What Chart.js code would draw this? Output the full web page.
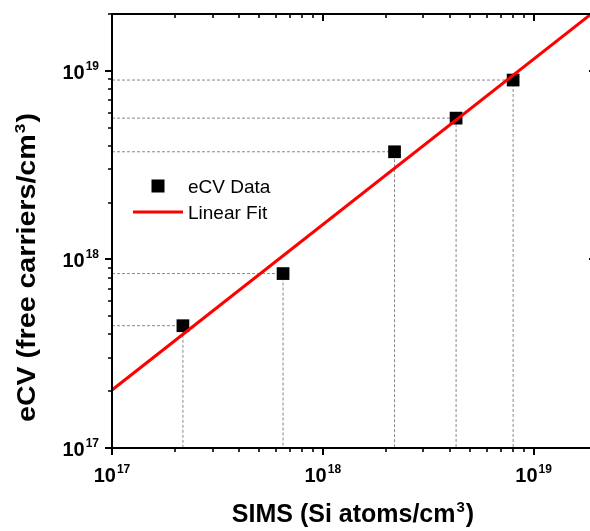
<!DOCTYPE html>
<html>
<head>
<meta charset="utf-8">
<script src="https://cdn.jsdelivr.net/npm/chart.js@4.4.1/dist/chart.umd.min.js"></script>
<style>
html, body { margin: 0; padding: 0; overflow: hidden; background: #fff; }
#wrap { width: 606px; height: 531px; }
</style>
</head>
<body>
<div id="wrap"><canvas id="chart" width="606" height="531"></canvas></div>
<script>
// SIMS vs eCV
const simsX = [2.17e17, 6.48e17, 2.19e18, 4.29e18, 8.0e18]
const ecvY = [4.45e17, 8.41e17, 3.72e18, 5.61e18, 8.93e18]
const fitX = [1e17, 1.855e19]
const fitY = [2.03e17, 1.98e19]
const xRange = [1e17, 2e19]
const yRange = [1e17, 2e19]
const decades = [17, 18, 19]
const legendLabels = ["eCV Data", "Linear Fit"]
const xTitle = ["SIMS (Si atoms/cm", "3", ")"]
const yTitle = ["eCV (free carriers/cm", "3", ")"]

const ff = "'Liberation Sans', Arial, sans-serif"

function partsWidth(ctx, parts){
    let w = 0
    parts.forEach(p=>{ ctx.font = p.font; w += ctx.measureText(p.t).width + (p.gap || 0) })
    return w
}

function drawParts(ctx, parts, x, y){
    parts.forEach(p=>{
        ctx.font = p.font
        ctx.fillText(p.t, x, y + (p.dy || 0))
        x += ctx.measureText(p.t).width + (p.gap || 0)
    })
}

function powParts(d){
    return [
        {t: "10", font: "bold 20px " + ff, gap: 1},
        {t: String(d), font: "bold 12px " + ff, dy: -9}
    ]
}

function titleParts(t, size){
    return [
        {t: t[0], font: "bold " + size + "px " + ff, gap: 1},
        {t: t[1], font: "bold 15px " + ff, dy: -10, gap: 1},
        {t: t[2], font: "bold " + size + "px " + ff}
    ]
}

const frame = {
    id: "frame",
    afterDraw(chart){
        const ctx = chart.ctx, a = chart.chartArea
        const xs = chart.scales.x, ys = chart.scales.y
        ctx.save()
        ctx.strokeStyle = "#000"
        ctx.fillStyle = "#000"
        ctx.lineWidth = 2
        ctx.strokeRect(a.left, a.top, a.right - a.left, a.bottom - a.top)

        // ticks: outward on bottom/left, inward on top/right
        decades.forEach(d=>{
            for(let k = 1; k <= 9; k++){
                const v = k * Math.pow(10, d)
                const major = k === 1
                const len = major ? 7 : 4
                ctx.lineWidth = major ? 2 : 1.6
                if(v >= xs.min * 0.9999 && v <= xs.max){
                    const p = Math.round(xs.getPixelForValue(v))
                    ctx.beginPath()
                    ctx.moveTo(p, a.bottom); ctx.lineTo(p, a.bottom + len)
                    ctx.moveTo(p, a.top); ctx.lineTo(p, a.top + len)
                    ctx.stroke()
                }
                if(v >= ys.min * 0.9999 && v <= ys.max){
                    const p = Math.round(ys.getPixelForValue(v))
                    ctx.beginPath()
                    ctx.moveTo(a.left, p); ctx.lineTo(a.left - len, p)
                    ctx.moveTo(a.right, p); ctx.lineTo(a.right - (major ? 8 : 4), p)
                    ctx.stroke()
                }
            }
        })

        // tick labels
        ctx.textBaseline = "alphabetic"
        ctx.textAlign = "left"
        decades.forEach(d=>{
            const v = Math.pow(10, d)
            const parts = powParts(d)
            const w = partsWidth(ctx, parts)
            if(v >= xs.min * 0.9999 && v <= xs.max){
                const p = xs.getPixelForValue(v)
                drawParts(ctx, parts, p - w / 2, a.bottom + 34)
            }
            if(v >= ys.min * 0.9999 && v <= ys.max){
                const p = ys.getPixelForValue(v)
                drawParts(ctx, parts, 99 - w, p + 8)
            }
        })

        // axis titles
        const xp = titleParts(xTitle, 25)
        drawParts(ctx, xp, 353 - partsWidth(ctx, xp) / 2, 522)

        const yp = titleParts(yTitle, 25)
        const yw = partsWidth(ctx, yp)
        ctx.save()
        ctx.translate(35, 267.5)
        ctx.rotate(-Math.PI / 2)
        ctx.scale(309 / yw, 1)
        drawParts(ctx, yp, -yw / 2, 0)
        ctx.restore()

        // legend
        ctx.font = "19px " + ff
        ctx.fillRect(151.5, 179.5, 13, 13)
        ctx.fillText(legendLabels[0], 188, 193)
        ctx.strokeStyle = "#ff0000"
        ctx.lineWidth = 3
        ctx.beginPath()
        ctx.moveTo(133, 212); ctx.lineTo(183, 212)
        ctx.stroke()
        ctx.fillText(legendLabels[1], 188, 219)
        ctx.restore()
    }
}

const dropLines = simsX.map((x, i)=>({
    label: "drop" + i,
    data: [{x: xRange[0], y: ecvY[i]}, {x: x, y: ecvY[i]}, {x: x, y: yRange[0]}],
    showLine: true,
    borderColor: "#888888",
    borderWidth: 1,
    borderDash: [3, 2],
    pointRadius: 0,
    order: 3
}))

const chart = new Chart(document.querySelector("#chart"), {
    type: "scatter",
    data: {
        datasets: [
            {
                label: legendLabels[1],
                data: fitX.map((x, i)=>({x: x, y: fitY[i]})),
                showLine: true,
                borderColor: "#ff0000",
                borderWidth: 3,
                pointRadius: 0,
                order: 0
            },
            {
                label: legendLabels[0],
                data: simsX.map((x, i)=>({x: x, y: ecvY[i]})),
                pointStyle: "rect",
                pointRadius: 9,
                backgroundColor: "#000",
                borderColor: "#000",
                borderWidth: 0,
                order: 1
            }
        ].concat(dropLines)
    },
    options: {
        responsive: false,
        animation: false,
        layout: {padding: {left: 112, top: 14, right: 9, bottom: 83}},
        plugins: {legend: {display: false}, tooltip: {enabled: false}},
        scales: {
            x: {type: "logarithmic", min: xRange[0], max: xRange[1], display: false},
            y: {type: "logarithmic", min: yRange[0], max: yRange[1], display: false}
        }
    },
    plugins: [frame]
})
</script>
</body>
</html>
